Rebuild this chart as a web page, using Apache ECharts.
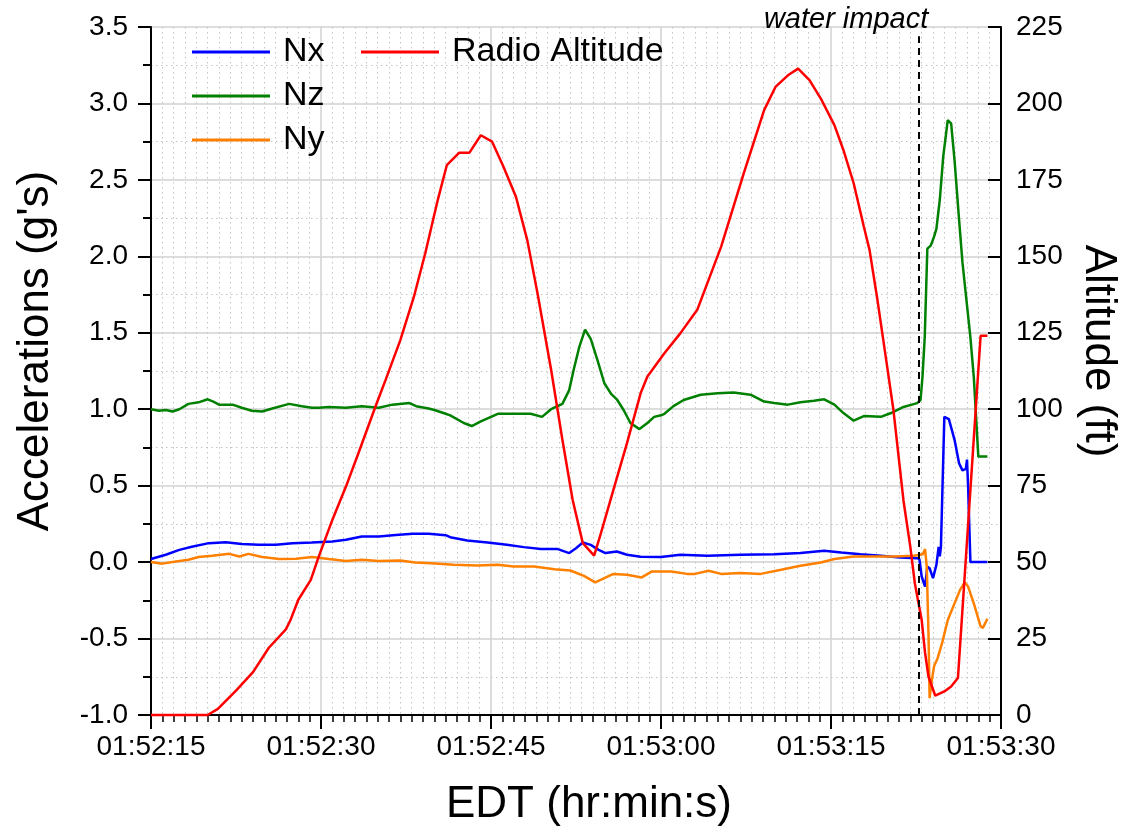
<!DOCTYPE html>
<html>
<head>
<meta charset="utf-8">
<title>Accelerations and Radio Altitude</title>
<script src="https://cdn.jsdelivr.net/npm/echarts@6/dist/echarts.min.js"></script>
<style>
  html, body { margin: 0; padding: 0; background: #fff; }
  #chart { width: 1127px; height: 832px; }
</style>
</head>
<body>
<div id="chart"></div>
<script>
// Time axis: seconds after 01:52:15 EDT
const START_SEC = 1 * 3600 + 52 * 60 + 15;
const X_MAX = 75;
const X_STEP = 15;
const IMPACT_T = 67.7;           // water impact, seconds after start

// Longitudinal acceleration Nx (g) : [t, value]
const NX = [
  [0,0.02],[1.3,0.048],[2.5,0.08],[3.6,0.10],[5.1,0.124],[6.6,0.13],[8.0,0.118],[9.5,0.113],
  [11.0,0.113],[12.5,0.124],[14.2,0.128],[16.0,0.135],[17.2,0.146],[18.6,0.167],[20.1,0.167],
  [21.6,0.178],[23.1,0.185],[24.5,0.185],[26.0,0.176],[26.4,0.163],[27.9,0.141],[29.7,0.128],
  [31.4,0.113],[32.9,0.098],[34.4,0.085],[35.9,0.085],[36.9,0.059],[37.5,0.091],[38.1,0.128],
  [38.8,0.113],[39.5,0.08],[40.1,0.059],[41.1,0.069],[42.0,0.048],[43.2,0.035],[45.0,0.033],
  [46.7,0.048],[49.1,0.041],[52.0,0.048],[55.0,0.052],[57.3,0.059],[59.4,0.074],[60.9,0.063],
  [62.6,0.052],[64.4,0.041],[66.1,0.03],[67.6,0.026],[67.8,0.02],[68.0,-0.094],[68.3,-0.16],
  [68.5,-0.03],[68.7,-0.04],[69.0,-0.105],[69.3,-0.018],[69.5,0.10],[69.6,0.037],[69.7,0.10],
  [70.0,0.95],[70.4,0.935],[70.9,0.80],[71.3,0.647],[71.6,0.60],[71.9,0.61],[72.0,0.67],
  [72.1,0.49],[72.3,0.0],[73.8,0.0]
];

// Vertical acceleration Nz (g)
const NZ = [
  [0,1.0],[0.7,0.99],[1.3,0.995],[1.9,0.985],[2.5,1.0],[3.3,1.035],[4.2,1.045],[5.0,1.065],
  [5.5,1.05],[6.0,1.03],[7.2,1.03],[8.0,1.01],[8.9,0.99],[9.8,0.985],[10.7,1.005],[12.2,1.035],
  [13.3,1.02],[14.2,1.01],[14.8,1.01],[15.7,1.015],[17.2,1.01],[18.6,1.02],[20.1,1.01],
  [21.3,1.03],[22.8,1.04],[23.4,1.02],[24.5,1.005],[25.0,0.995],[26.0,0.97],[26.4,0.96],
  [27.6,0.91],[28.3,0.89],[29.1,0.92],[30.6,0.97],[32.0,0.97],[33.5,0.97],[34.5,0.95],
  [35.3,1.0],[36.3,1.035],[36.9,1.125],[37.3,1.26],[37.8,1.41],[38.3,1.52],[38.8,1.46],
  [39.4,1.32],[40.0,1.17],[40.6,1.10],[41.1,1.065],[41.7,0.995],[42.3,0.91],[43.1,0.87],
  [43.8,0.91],[44.4,0.95],[45.0,0.96],[45.3,0.97],[46.1,1.02],[47.0,1.06],[48.5,1.095],
  [50.0,1.105],[51.4,1.11],[52.9,1.095],[54.1,1.05],[55.0,1.04],[56.2,1.03],[57.3,1.045],
  [58.5,1.055],[59.4,1.065],[60.3,1.03],[61.1,0.975],[62.0,0.925],[62.9,0.955],[64.4,0.95],
  [65.3,0.975],[66.4,1.015],[67.6,1.04],[67.9,1.06],[68.07,1.21],[68.27,1.47],[68.5,2.05],
  [68.8,2.07],[69.1,2.13],[69.3,2.18],[69.6,2.37],[69.9,2.65],[70.3,2.89],[70.6,2.87],
  [70.9,2.63],[71.3,2.24],[71.6,1.96],[71.9,1.75],[72.3,1.47],[72.6,1.21],[73.0,0.69],[73.8,0.69]
];

// Lateral acceleration Ny (g)
const NY = [
  [0,0.0],[1.0,-0.01],[2.2,0.004],[3.3,0.015],[4.2,0.033],[5.4,0.041],[6.9,0.054],[7.8,0.037],
  [8.6,0.054],[9.8,0.033],[11.3,0.02],[12.8,0.022],[14.2,0.033],[15.7,0.02],[17.2,0.008],
  [18.6,0.015],[20.1,0.008],[22.0,0.01],[23.3,-0.003],[24.7,-0.007],[26.7,-0.018],[28.8,-0.022],
  [30.6,-0.018],[32.0,-0.029],[33.8,-0.029],[35.6,-0.046],[37.0,-0.055],[38.2,-0.09],
  [39.2,-0.133],[40.0,-0.105],[40.8,-0.077],[42.0,-0.083],[43.3,-0.1],[44.2,-0.061],
  [45.9,-0.061],[47.3,-0.077],[48.0,-0.077],[49.2,-0.057],[50.3,-0.077],[52.0,-0.072],
  [53.8,-0.077],[55.6,-0.05],[57.3,-0.024],[59.1,-0.003],[60.3,0.02],[62.0,0.037],[63.8,0.037],
  [65.6,0.037],[67.3,0.041],[68.1,0.052],[68.3,0.085],[68.45,-0.03],[68.6,-0.46],[68.7,-0.89],
  [68.9,-0.77],[69.1,-0.68],[69.4,-0.63],[69.8,-0.53],[70.3,-0.38],[70.9,-0.27],[71.4,-0.18],
  [71.8,-0.133],[72.1,-0.16],[72.6,-0.27],[73.2,-0.42],[73.4,-0.43],[73.8,-0.37]
];

// Radio altitude (ft)
const RALT = [
  [0,0],[5.0,0],[5.9,2],[7.5,8],[9.0,14],[10.4,22],[11.9,28],[12.3,31],[13.0,37.7],[14.1,44.2],
  [14.8,51.8],[16.0,63.8],[17.2,74.7],[18.3,85.6],[19.8,100.8],[20.7,109.6],[22.0,122.6],
  [23.2,136.8],[24.2,151],[25.3,168.4],[26.1,179.8],[27.2,183.9],[28.1,183.9],[29.1,189.6],
  [30.1,187.5],[31.1,179.3],[32.2,169.5],[33.2,155.3],[34.1,138],[35.3,113],[36.3,90],
  [37.2,70.4],[38.1,56.2],[39.1,52.1],[39.7,59.5],[40.8,73.6],[42.0,88.9],[43.2,105.2],
  [43.8,110.7],[45.3,118.3],[46.7,124.8],[48.2,132.5],[50.3,153.1],[52.3,177.1],[54.1,197.8],
  [55.1,205.4],[56.2,209.2],[57.1,211.4],[58.1,207.6],[59.1,201.6],[60.3,192.9],[61.1,184.7],
  [62.0,173.9],[62.9,159.7],[63.4,152.1],[64.1,135.7],[65.0,112.8],[65.5,100],[66.4,70],
  [67.0,55],[67.4,43],[68.0,31.1],[68.3,20.3],[68.6,12.6],[69.2,6.3],[70.0,7.7],[70.6,9.3],
  [71.2,12.1],[73.2,124],[73.8,124]
];

const FONT = '"Liberation Sans", Arial, sans-serif';
const AXIS_BLACK = { color: '#000', width: 2 };
const LINE_W = 2.5;

function clockLabel(v) {
  const s = START_SEC + Math.round(v);
  const pad = n => String(n).padStart(2, '0');
  return pad(Math.floor(s / 3600)) + ':' + pad(Math.floor(s / 60) % 60) + ':' + pad(s % 60);
}

const chart = echarts.init(document.getElementById('chart'), null, { renderer: 'canvas' });

const majorGrid = { show: true, lineStyle: { color: '#d2d2d2', width: 1.5 } };
const minorGrid = { show: true, lineStyle: { color: '#c4c4c4', width: 1, type: [1.5, 3.5] } };
const legendText = { fontSize: 34, color: '#000', lineHeight: 44, padding: [0, 0, 0, 8], fontFamily: FONT };

chart.setOption({
  animation: false,
  backgroundColor: '#fff',
  textStyle: { fontFamily: FONT },
  grid: { left: 151, right: 126, top: 27, bottom: 117, containLabel: false },
  legend: [
    {
      data: ['Nx', 'Nz', 'Ny'],
      orient: 'vertical',
      left: 187, top: 25,
      itemWidth: 78, itemHeight: 3, itemGap: 0,
      icon: 'rect',
      selectedMode: false,
      textStyle: legendText
    },
    {
      data: ['Radio Altitude'],
      orient: 'vertical',
      left: 356, top: 25,
      itemWidth: 78, itemHeight: 3, itemGap: 0,
      icon: 'rect',
      selectedMode: false,
      textStyle: legendText
    }
  ],
  xAxis: {
    type: 'value',
    min: 0, max: X_MAX, interval: X_STEP,
    axisLine: { show: true, onZero: false, lineStyle: AXIS_BLACK },
    axisTick: { show: true, length: 14, lineStyle: AXIS_BLACK },
    minorTick: { show: true, splitNumber: 15, length: 7, lineStyle: { color: '#000', width: 1.5 } },
    splitLine: majorGrid,
    minorSplitLine: minorGrid,
    axisLabel: { fontSize: 28, color: '#000', margin: 18, formatter: clockLabel, fontFamily: FONT }
  },
  yAxis: [
    {
      type: 'value',
      min: -1, max: 3.5, interval: 0.5,
      axisLine: { show: true, lineStyle: AXIS_BLACK },
      axisTick: { show: true, length: 13, lineStyle: AXIS_BLACK },
      minorTick: { show: true, splitNumber: 2, length: 8, lineStyle: { color: '#000', width: 2 } },
      splitLine: majorGrid,
      minorSplitLine: minorGrid,
      axisLabel: { fontSize: 28, color: '#000', margin: 23, formatter: v => v.toFixed(1), fontFamily: FONT }
    },
    {
      type: 'value',
      position: 'right',
      min: 0, max: 225, interval: 25,
      axisLine: { show: true, lineStyle: AXIS_BLACK },
      axisTick: { show: true, inside: true, length: 13, lineStyle: AXIS_BLACK },
      splitLine: { show: false },
      axisLabel: { fontSize: 28, color: '#000', margin: 15, fontFamily: FONT }
    }
  ],
  series: [
    {
      name: 'Nx', type: 'line', data: NX, yAxisIndex: 0,
      showSymbol: false, color: '#0000ff',
      lineStyle: { width: LINE_W, color: '#0000ff' },
      markLine: {
        silent: true, symbol: 'none',
        lineStyle: { color: '#000', width: 2, type: [7, 5] },
        label: { show: false },
        data: [[{ coord: [IMPACT_T, -1] }, { coord: [IMPACT_T, 3.44] }]]
      }
    },
    {
      name: 'Nz', type: 'line', data: NZ, yAxisIndex: 0,
      showSymbol: false, color: '#008000',
      lineStyle: { width: LINE_W, color: '#008000' }
    },
    {
      name: 'Ny', type: 'line', data: NY, yAxisIndex: 0,
      showSymbol: false, color: '#ff8000',
      lineStyle: { width: LINE_W, color: '#ff8000' }
    },
    {
      name: 'Radio Altitude', type: 'line', data: RALT, yAxisIndex: 1,
      showSymbol: false, color: '#ff0000', clip: false,
      lineStyle: { width: LINE_W, color: '#ff0000' }
    }
  ]
});

// Axis titles and the impact annotation, placed from the axes' own pixel scale
const impactX = chart.convertToPixel({ xAxisIndex: 0 }, IMPACT_T);
const gridMidY = (chart.convertToPixel({ yAxisIndex: 0 }, 3.5) + chart.convertToPixel({ yAxisIndex: 0 }, -1)) / 2;
const gridMidX = (chart.convertToPixel({ xAxisIndex: 0 }, 0) + chart.convertToPixel({ xAxisIndex: 0 }, X_MAX)) / 2;

chart.setOption({
  graphic: [
    {
      type: 'text', x: 36, y: gridMidY - 20, rotation: Math.PI / 2,
      style: { text: "Accelerations (g's)", font: '44px ' + FONT, fill: '#000', align: 'center', verticalAlign: 'middle' }
    },
    {
      type: 'text', x: 1098, y: gridMidY - 20, rotation: -Math.PI / 2,
      style: { text: 'Altitude (ft)', font: '44px ' + FONT, fill: '#000', align: 'center', verticalAlign: 'middle' }
    },
    {
      type: 'text', x: gridMidX + 13, y: 805,
      style: { text: 'EDT (hr:min:s)', font: '44px ' + FONT, fill: '#000', align: 'center', verticalAlign: 'middle' }
    },
    {
      type: 'text', x: impactX + 10, y: 20,
      style: { text: 'water impact', font: 'italic 29px ' + FONT, fill: '#000', align: 'right', verticalAlign: 'middle' }
    }
  ]
});
</script>
</body>
</html>
